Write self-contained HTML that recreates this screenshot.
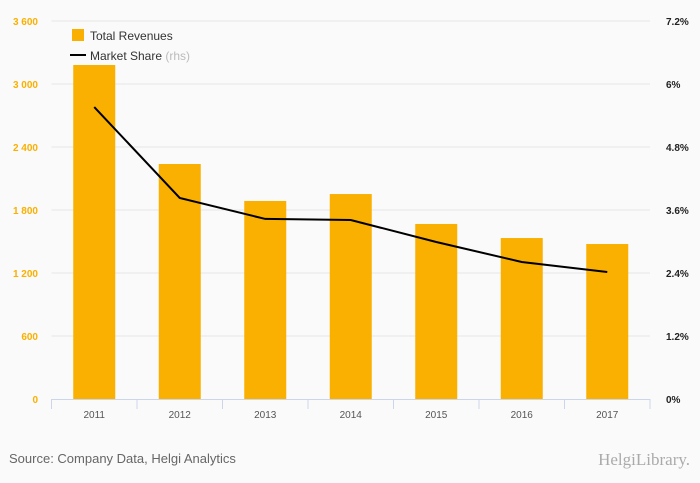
<!DOCTYPE html>
<html><head><meta charset="utf-8"><style>
body{margin:0;background:#fafafa;}
svg{display:block;font-family:"Liberation Sans",sans-serif;}
</style></head><body>
<svg id="c" width="700" height="483" viewBox="0 0 700 483">
<rect width="700" height="483" fill="#fafafa"/>
<g id="grid"></g><g id="bars"></g><g id="axes"></g><g id="line"></g>
<g>
<rect x="72" y="29" width="12" height="12" fill="#f9b000"/>
<text x="90" y="40" font-size="12" fill="#333">Total Revenues</text>
<line x1="70" y1="55" x2="86" y2="55" stroke="#000" stroke-width="2"/>
<text x="90" y="60" font-size="12" fill="#333">Market Share <tspan fill="#bbb">(rhs)</tspan></text>
</g>
<text x="9" y="463" font-size="13" fill="#666">Source: Company Data, Helgi Analytics</text>
<text x="690" y="465" font-size="17" fill="#aaa" text-anchor="end" font-family="Liberation Serif,serif">HelgiLibrary.</text>
</svg>
<script>
const categories=["2011","2012","2013","2014","2015","2016","2017"];
const revenues=[3181,2238,1886,1952,1667,1533,1476];
const marketShare=[5.56,3.83,3.43,3.41,2.99,2.61,2.42];
const leftTicks=[0,600,1200,1800,2400,3000,3600];
const leftTickLabels=["0","600","1 200","1 800","2 400","3 000","3 600"];
const rightTicks=[0,1.2,2.4,3.6,4.8,6,7.2];
const rightTickLabels=["0%","1.2%","2.4%","3.6%","4.8%","6%","7.2%"];
const NS="http://www.w3.org/2000/svg";
const X0=51.5,X1=650,Y0=399,Y1=21;
const band=(X1-X0)/categories.length;
const yL=v=>Y0-(v/3600)*(Y0-Y1);
const yR=v=>Y0-(v/7.2)*(Y0-Y1);
const xC=i=>X0+band*(i+0.5);
function mk(tag,attrs,parent){const e=document.createElementNS(NS,tag);for(const k in attrs)e.setAttribute(k,attrs[k]);document.getElementById(parent).appendChild(e);return e;}
leftTicks.forEach((t,i)=>{
 if(t>0){const g=mk('line',{x1:X0,x2:X1,y1:yL(t),y2:yL(t),stroke:'#e6e6e6','stroke-width':1},'grid');
 
 }
 const l=mk('text',{x:38,y:yL(t)+4,'font-size':10,fill:'#f9b000','text-anchor':'end','font-weight':'bold'},'axes');l.textContent=leftTickLabels[i];
 
 
});
rightTicks.forEach((t,i)=>{
 const l=mk('text',{x:666,y:yR(t)+4,'font-size':10,fill:'#222','font-weight':'bold'},'axes');l.textContent=rightTickLabels[i];
 
 
});
revenues.forEach((v,i)=>{
 const b=mk('rect',{x:xC(i)-21,y:yL(v),width:42,height:Y0-yL(v),fill:'#f9b000'},'bars');
 
 
 const l=mk('text',{x:xC(i),y:418,'font-size':10,fill:'#555','text-anchor':'middle'},'axes');l.textContent=categories[i];
 
 
});
const ax=mk('line',{x1:X0,x2:X1,y1:Y0+0.5,y2:Y0+0.5,stroke:'#ccd6eb'},'axes');


for(let i=0;i<=categories.length;i++){const t=mk('line',{x1:X0+band*i,x2:X0+band*i,y1:Y0,y2:Y0+10,stroke:'#ccd6eb'},'axes');
 
 }
const p=mk('polyline',{points:marketShare.map((v,i)=>xC(i)+','+yR(v)).join(' '),fill:'none',stroke:'#000','stroke-width':2},'line');


</script>
</body></html>
